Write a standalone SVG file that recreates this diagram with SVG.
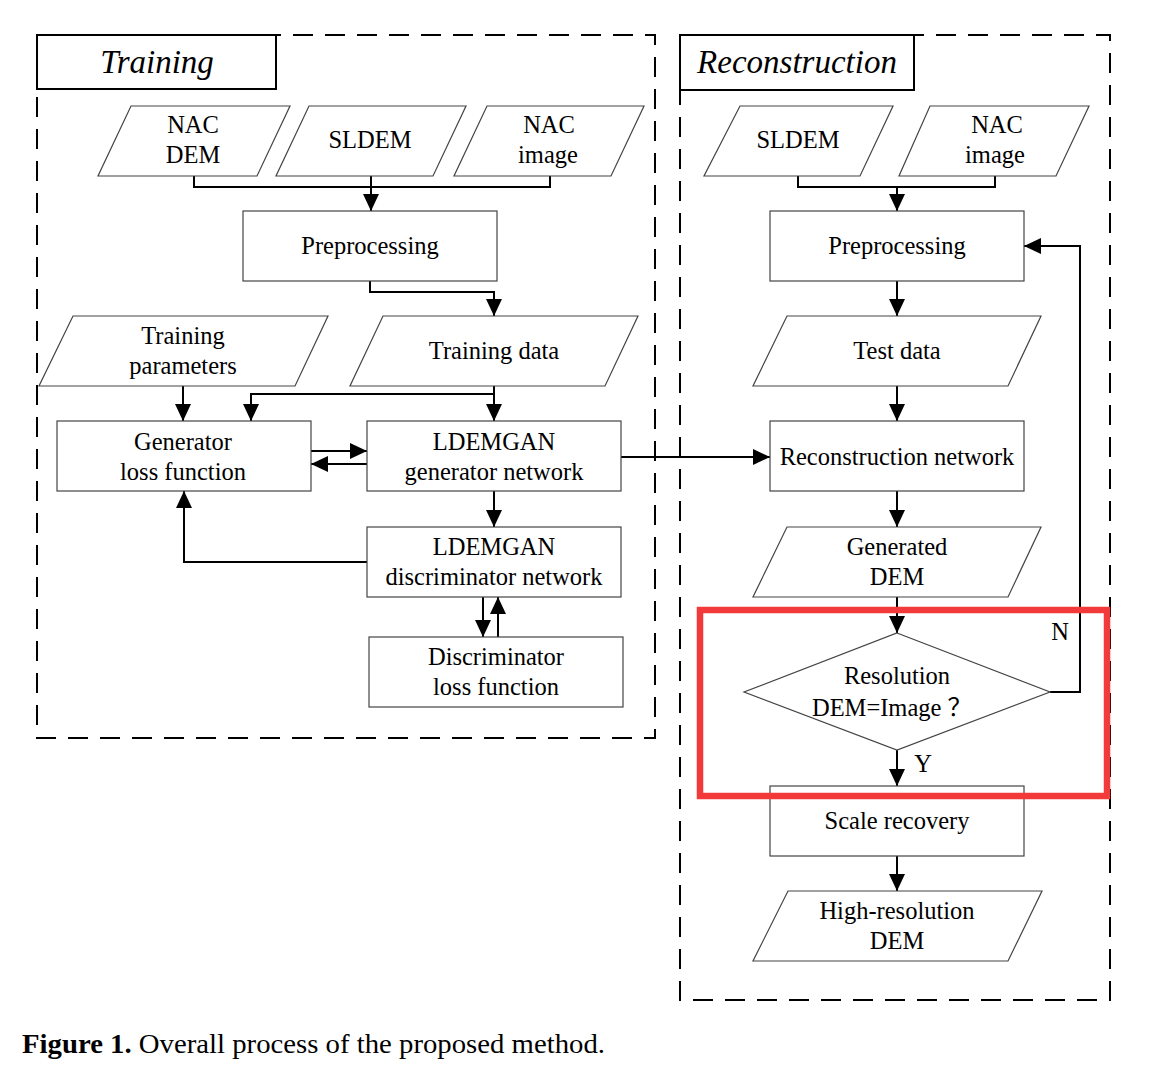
<svg xmlns="http://www.w3.org/2000/svg" width="1169" height="1072" viewBox="0 0 1169 1072">
<style>
.frame{fill:none;stroke:#000;stroke-width:2;stroke-dasharray:20 12}
.title{fill:#fff;stroke:#000;stroke-width:2}
.tt{font-family:"Liberation Serif",serif;font-style:italic;font-size:33px;fill:#000;text-anchor:middle}
.node{fill:#fff;stroke:#444;stroke-width:1.2}
.t{font-family:"Liberation Serif","Noto Sans CJK SC",serif;font-size:24.5px;fill:#000;text-anchor:middle}
.c{fill:none;stroke:#000;stroke-width:2}
.ca{fill:none;stroke:#000;stroke-width:2;marker-end:url(#ah)}
.cap{font-family:"Liberation Serif",serif;font-size:27px;fill:#000}
</style>
<defs>
<marker id="ah" markerUnits="userSpaceOnUse" markerWidth="18" markerHeight="16" refX="17" refY="8" orient="auto">
<path d="M0,0 L17,8 L0,16 z" fill="#000"/>
</marker>
</defs>
<rect width="1169" height="1072" fill="#fff"/>

<g id="training-frame">
<rect class="frame" x="37" y="35" width="618" height="703"/>
<rect class="title" x="37" y="35" width="239" height="54"/>
<text class="tt" x="157" y="73">Training</text>
</g>
<g id="reconstruction-frame">
<rect class="frame" x="680" y="35" width="430" height="965"/>
<rect class="title" x="680" y="35" width="234" height="55"/>
<text class="tt" x="797" y="73">Reconstruction</text>
</g>

<g id="connectors">
<polyline class="c" points="194,176 194,187 550,187 550,176"/>
<line class="ca" x1="371" y1="176" x2="371" y2="211"/>
<polyline class="ca" points="370,281 370,292 494,292 494,316"/>
<line class="ca" x1="183" y1="386" x2="183" y2="421"/>
<line class="ca" x1="494" y1="386" x2="494" y2="421"/>
<polyline class="ca" points="494,394 251,394 251,421"/>
<line class="ca" x1="311" y1="451" x2="367" y2="451"/>
<line class="ca" x1="367" y1="464" x2="311" y2="464"/>
<line class="ca" x1="494" y1="491" x2="494" y2="527"/>
<polyline class="ca" points="367,562 184,562 184,491"/>
<line class="ca" x1="483" y1="597" x2="483" y2="637"/>
<line class="ca" x1="498" y1="637" x2="498" y2="597"/>
<line class="ca" x1="621" y1="457" x2="770" y2="457"/>
<polyline class="c" points="798,176 798,187 995,187 995,176"/>
<line class="ca" x1="897" y1="187" x2="897" y2="211"/>
<line class="ca" x1="897" y1="281" x2="897" y2="316"/>
<line class="ca" x1="897" y1="386" x2="897" y2="421"/>
<line class="ca" x1="897" y1="491" x2="897" y2="527"/>
<line class="ca" x1="897" y1="597" x2="897" y2="633"/>
<line class="ca" x1="897" y1="750" x2="897" y2="786"/>
<line class="ca" x1="897" y1="856" x2="897" y2="891"/>
<polyline class="ca" points="1050,692 1080,692 1080,246 1024,246"/>
<text class="t" x="1060" y="640">N</text>
<text class="t" x="923" y="772">Y</text>
</g>

<g id="nac-dem-train">
<polygon class="node" points="131,106 290,106 257,176 98,176"/>
<text class="t" x="193" y="133">NAC</text>
<text class="t" x="193" y="163">DEM</text>
</g>
<g id="sldem-train">
<polygon class="node" points="309,106 466,106 433,176 276,176"/>
<text class="t" x="370" y="148">SLDEM</text>
</g>
<g id="nac-image-train">
<polygon class="node" points="487,106 644,106 611,176 454,176"/>
<text class="t" x="549" y="133">NAC</text>
<text class="t" x="548" y="163">image</text>
</g>
<g id="preprocessing-train">
<rect class="node" x="243" y="211" width="254" height="70"/>
<text class="t" x="370" y="254">Preprocessing</text>
</g>
<g id="training-parameters">
<polygon class="node" points="73,316 328,316 295,386 39,386"/>
<text class="t" x="183" y="344">Training</text>
<text class="t" x="183" y="374">parameters</text>
</g>
<g id="training-data">
<polygon class="node" points="383,316 638,316 605,386 350,386"/>
<text class="t" x="494" y="359">Training data</text>
</g>
<g id="generator-loss">
<rect class="node" x="57" y="421" width="254" height="70"/>
<text class="t" x="183" y="450">Generator</text>
<text class="t" x="183" y="480">loss function</text>
</g>
<g id="generator-network">
<rect class="node" x="367" y="421" width="254" height="70"/>
<text class="t" x="494" y="450">LDEMGAN</text>
<text class="t" x="494" y="480">generator network</text>
</g>
<g id="discriminator-network">
<rect class="node" x="367" y="527" width="254" height="70"/>
<text class="t" x="494" y="555">LDEMGAN</text>
<text class="t" x="494" y="585">discriminator network</text>
</g>
<g id="discriminator-loss">
<rect class="node" x="369" y="637" width="254" height="70"/>
<text class="t" x="496" y="665">Discriminator</text>
<text class="t" x="496" y="695">loss function</text>
</g>

<g id="sldem-rec">
<polygon class="node" points="740,106 893,106 860,176 704,176"/>
<text class="t" x="798" y="148">SLDEM</text>
</g>
<g id="nac-image-rec">
<polygon class="node" points="930,106 1089,106 1056,176 899,176"/>
<text class="t" x="997" y="133">NAC</text>
<text class="t" x="995" y="163">image</text>
</g>
<g id="preprocessing-rec">
<rect class="node" x="770" y="211" width="254" height="70"/>
<text class="t" x="897" y="254">Preprocessing</text>
</g>
<g id="test-data">
<polygon class="node" points="787,316 1041,316 1008,386 753,386"/>
<text class="t" x="897" y="359">Test data</text>
</g>
<g id="reconstruction-network">
<rect class="node" x="770" y="421" width="254" height="70"/>
<text class="t" x="897" y="465">Reconstruction network</text>
</g>
<g id="generated-dem">
<polygon class="node" points="787,527 1041,527 1008,597 753,597"/>
<text class="t" x="897" y="555">Generated</text>
<text class="t" x="897" y="585">DEM</text>
</g>
<g id="resolution-check">
<polygon class="node" points="897,633 1050,692 897,750 744,692"/>
<text class="t" x="897" y="684">Resolution</text>
<text class="t" x="892" y="716">DEM=Image ？</text>
</g>
<g id="scale-recovery">
<rect class="node" x="770" y="786" width="254" height="70"/>
<text class="t" x="897" y="829">Scale recovery</text>
</g>
<g id="high-resolution-dem">
<polygon class="node" points="788,891 1042,891 1008,961 753,961"/>
<text class="t" x="897" y="919">High-resolution</text>
<text class="t" x="897" y="949">DEM</text>
</g>

<rect id="highlight" x="700" y="610" width="407" height="186" fill="none" stroke="#f23a3a" stroke-width="6.5"/>

<text class="cap" x="22" y="1053" textLength="583" lengthAdjust="spacingAndGlyphs"><tspan font-weight="bold">Figure 1.</tspan> Overall process of the proposed method.</text>
</svg>
